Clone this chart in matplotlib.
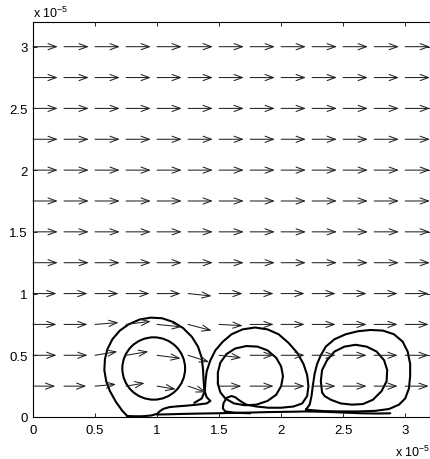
import numpy as np
import matplotlib
matplotlib.use("Agg")
import matplotlib.pyplot as plt
from matplotlib.patches import Ellipse

plt.rcParams['font.family'] = ['Liberation Sans', 'DejaVu Sans']
plt.rcParams['font.size'] = 9
plt.rcParams['mathtext.fontset'] = 'custom'
plt.rcParams['mathtext.rm'] = 'Liberation Sans'

# all lengths in units of 1e-5
grid_x = [0, 0.25, 0.5, 0.75, 1.0, 1.25, 1.5, 1.75, 2.0, 2.25, 2.5, 2.75, 3.0]
grid_y = [0.25, 0.5, 0.75, 1.0, 1.25, 1.5, 1.75, 2.0, 2.25, 2.5, 2.75, 3.0]

# free stream arrows (rows 1.25 .. 3.0)
u_free = 0.2
v_free = 0.0

# disturbed rows near the wall (y = 0.25, 0.5, 0.75, 1.0)
u_row025 = [0.18, 0.18, 0.17, 0.15, 0.15, 0.145, 0.18, 0.19, 0.19, 0.19, 0.19, 0.19, 0.19]
v_row025 = [0, 0, 0.015, 0.025, -0.025, -0.05, 0, 0, 0, 0, 0, 0, 0]
u_row050 = [0.19, 0.19, 0.18, 0.18, 0.19, 0.17, 0.18, 0.19, 0.19, 0.19, 0.19, 0.19, 0.19]
v_row050 = [0, 0, 0.03, 0.03, -0.025, -0.055, -0.02, 0, 0, 0, 0, 0, 0]
u_row075 = [0.19, 0.19, 0.19, 0.20, 0.20, 0.19, 0.19, 0.19, 0.19, 0.19, 0.19, 0.19, 0.19]
v_row075 = [0, 0, 0.015, 0.025, -0.02, -0.05, -0.01, 0, 0, 0, 0, 0, 0]
u_row100 = [0.19, 0.19, 0.19, 0.19, 0.19, 0.19, 0.19, 0.19, 0.19, 0.19, 0.19, 0.19, 0.19]
v_row100 = [0, 0, 0, 0, 0, -0.02, 0, 0, 0, 0, 0, 0, 0]

# traced loops (x, y)
left_inner_center = (0.973, 0.393)
left_inner_size = (0.506, 0.505)

left_outer = [(0.76, 0.008), (0.72, 0.05), (0.67, 0.12), (0.62, 0.21), (0.59, 0.29),
              (0.575, 0.38), (0.58, 0.47), (0.60, 0.55), (0.64, 0.63), (0.70, 0.70),
              (0.77, 0.75), (0.86, 0.79), (0.95, 0.805), (1.04, 0.80), (1.13, 0.77),
              (1.21, 0.72), (1.28, 0.65), (1.33, 0.57), (1.36, 0.48), (1.37, 0.39),
              (1.375, 0.30), (1.38, 0.22), (1.40, 0.16), (1.43, 0.13), (1.40, 0.11),
              (1.32, 0.10), (1.24, 0.092), (1.16, 0.086), (1.10, 0.08), (1.05, 0.066),
              (1.02, 0.045), (1.00, 0.025), (0.95, 0.012), (0.88, 0.006), (0.82, 0.006),
              (0.76, 0.008)]

mid_inner = [(1.49, 0.27), (1.49, 0.36), (1.51, 0.44), (1.56, 0.51), (1.63, 0.555),
             (1.72, 0.575), (1.81, 0.57), (1.89, 0.54), (1.96, 0.48), (2.00, 0.41),
             (2.015, 0.33), (2.00, 0.25), (1.96, 0.18), (1.89, 0.13), (1.80, 0.10),
             (1.71, 0.095), (1.62, 0.11), (1.55, 0.15), (1.51, 0.20), (1.49, 0.27)]

mid_outer = [(1.30, 0.115), (1.36, 0.15), (1.385, 0.21), (1.39, 0.29), (1.40, 0.37),
             (1.43, 0.46), (1.47, 0.54), (1.53, 0.61), (1.60, 0.67), (1.69, 0.71),
             (1.79, 0.725), (1.89, 0.71), (1.98, 0.67), (2.06, 0.60), (2.13, 0.52),
             (2.18, 0.43), (2.21, 0.34), (2.22, 0.25), (2.21, 0.17), (2.17, 0.11),
             (2.10, 0.085), (2.00, 0.075), (1.90, 0.075), (1.80, 0.085), (1.72, 0.10),
             (1.67, 0.13), (1.63, 0.16), (1.60, 0.17), (1.56, 0.155), (1.535, 0.11),
             (1.53, 0.07), (1.55, 0.045), (1.62, 0.035), (1.75, 0.03)]

right_inner = [(2.33, 0.20), (2.32, 0.29), (2.33, 0.38), (2.37, 0.46), (2.43, 0.53),
               (2.51, 0.57), (2.60, 0.585), (2.69, 0.57), (2.77, 0.53), (2.83, 0.46),
               (2.855, 0.38), (2.85, 0.29), (2.81, 0.21), (2.74, 0.14), (2.66, 0.105),
               (2.57, 0.10), (2.48, 0.11), (2.40, 0.14), (2.35, 0.17), (2.33, 0.20)]

right_outer = [(2.20, 0.06), (2.23, 0.10), (2.245, 0.17), (2.255, 0.25), (2.27, 0.35),
               (2.29, 0.43), (2.32, 0.50), (2.36, 0.57), (2.43, 0.63), (2.52, 0.67),
               (2.62, 0.695), (2.72, 0.705), (2.82, 0.70), (2.91, 0.67), (2.98, 0.61),
               (3.02, 0.53), (3.04, 0.43), (3.04, 0.33), (3.03, 0.23), (3.00, 0.15),
               (2.95, 0.10), (2.87, 0.065), (2.76, 0.05), (2.62, 0.045), (2.48, 0.045),
               (2.34, 0.048), (2.25, 0.055), (2.20, 0.06)]

bottom_line = [(1.00, 0.02), (1.10, 0.022), (1.20, 0.025), (1.35, 0.028), (1.48, 0.03),
               (1.60, 0.033), (1.75, 0.036), (1.90, 0.04), (2.05, 0.042), (2.20, 0.045),
               (2.35, 0.042), (2.50, 0.036), (2.65, 0.03), (2.78, 0.028), (2.88, 0.03)]

xticks = [0, 0.5, 1, 1.5, 2, 2.5, 3]
xticklabels = ['0', '0.5', '1', '1.5', '2', '2.5', '3']
yticks = [0, 0.5, 1, 1.5, 2, 2.5, 3]
yticklabels = ['0', '0.5', '1', '1.5', '2', '2.5', '3']

fig = plt.figure(figsize=(4.31, 4.60), dpi=100)
ax = fig.add_axes([33 / 431, 42 / 460, 397 / 431, 395 / 460])

U = np.full((len(grid_y), len(grid_x)), u_free)
V = np.full((len(grid_y), len(grid_x)), v_free)
U[0], V[0] = u_row025, v_row025
U[1], V[1] = u_row050, v_row050
U[2], V[2] = u_row075, v_row075
U[3], V[3] = u_row100, v_row100

for j, y in enumerate(grid_y):
    for i, x in enumerate(grid_x):
        ax.annotate('', xy=(x + U[j, i], y + V[j, i]), xytext=(x, y),
                    arrowprops=dict(arrowstyle='->,head_length=0.6,head_width=0.22',
                                    lw=0.75, color='#222222', shrinkA=0, shrinkB=0,
                                    mutation_scale=10))

loop_kw = dict(color='black', lw=1.5, solid_joinstyle='round', solid_capstyle='round')
for curve in [left_outer, mid_inner, mid_outer, right_inner, right_outer, bottom_line]:
    cx, cy = zip(*curve)
    ax.plot(cx, cy, **loop_kw)
ax.add_patch(Ellipse(left_inner_center, left_inner_size[0], left_inner_size[1],
                     fill=False, edgecolor='black', lw=1.5))

ax.set_xlim(0, 3.2)
ax.set_ylim(0, 3.2)
ax.set_xticks(xticks)
ax.set_xticklabels(xticklabels)
ax.set_yticks(yticks)
ax.set_yticklabels(yticklabels)
ax.tick_params(direction='in', length=3, width=0.6, top=True, right=True, labelsize=9.5)
ax.tick_params(axis='x', pad=5)
ax.tick_params(axis='y', pad=4)
for s in ax.spines.values():
    s.set_linewidth(0.8)

fig.text(33 / 431, 1 - 18 / 460, r'x $10^{-5}$', ha='left', va='baseline', fontsize=9)
fig.text(430 / 431, 1 - 457 / 460, r'x $10^{-5}$', ha='right', va='baseline', fontsize=9)

fig.savefig('out.png', dpi=100)
